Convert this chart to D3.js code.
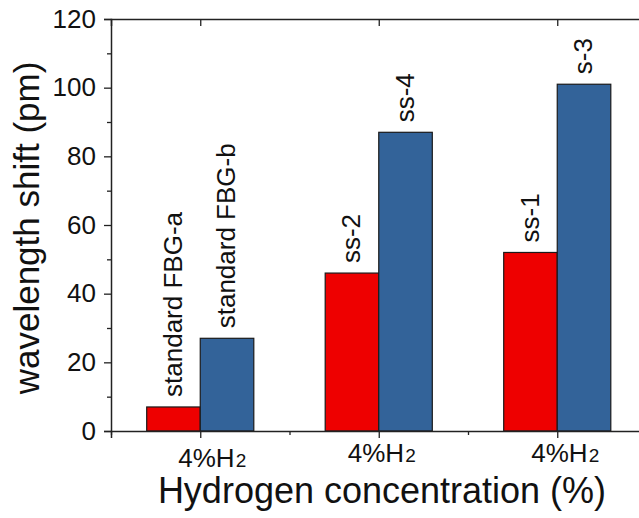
<!DOCTYPE html>
<html><head><meta charset="utf-8">
<script src="https://cdn.jsdelivr.net/npm/d3@7/dist/d3.min.js"></script>
<style>body{margin:0;background:#fff}svg{display:block;font-family:"Liberation Sans",Arial,sans-serif}</style>
</head><body><svg id="c" width="639" height="518"></svg>
<script>
const categories = ["4%H2", "4%H2", "4%H2"];
const redValues = [7, 46, 52];
const blueValues = [27, 87, 101];
const redLabels = ["standard FBG-a", "ss-2", "ss-1"];
const blueLabels = ["standard FBG-b", "ss-4", "s-3"];
const yTicks = [0, 20, 40, 60, 80, 100, 120];

const svg = d3.select("#c");
const L = 111, T = 19, B = 431, R = 646.5;
const x = d3.scaleLinear().domain([0.5, 3.5]).range([L, R]);
const y = d3.scaleLinear().domain([0, 120]).range([B, T]);
const bw = (x(1) - x(0)) * 0.3;
const axisColor = "#222";
const FONT = "Liberation Sans, Arial, sans-serif";

// bars
const g = svg.append("g");
const data = categories.map((c, i) => ({i: i + 1, r: redValues[i], b: blueValues[i], rl: redLabels[i], bl: blueLabels[i]}));
g.selectAll(".rb").data(data).join("rect")
  .attr("x", d => x(d.i) - bw).attr("y", d => y(d.r))
  .attr("width", bw).attr("height", d => y(0) - y(d.r))
  .attr("fill", "#ee0000").attr("stroke", "#1a1a1a").attr("stroke-width", 1.2);
g.selectAll(".bb").data(data).join("rect")
  .attr("x", d => x(d.i)).attr("y", d => y(d.b))
  .attr("width", bw).attr("height", d => y(0) - y(d.b))
  .attr("fill", "#336399").attr("stroke", "#1a1a1a").attr("stroke-width", 1.2);

// bar labels
const lab = (cx, v, t) => svg.append("text")
  .attr("transform", `translate(${cx},${y(v) - 10}) rotate(-90)`)
  .attr("dy", "0.35em").attr("font-size", 26).attr("fill", "#111").text(t);
data.forEach(d => {
  lab(x(d.i) - bw / 2 - 1, d.r, d.rl);
  lab(x(d.i) + bw / 2 - 1, d.b, d.bl);
});

// left axis
const yAxis = d3.axisLeft(y).tickValues(yTicks).tickSize(7).tickPadding(8);
const ya = svg.append("g").attr("transform", `translate(${L},0)`).call(yAxis);
ya.selectAll("text").attr("font-size", 26).attr("fill", "#111").attr("font-family", FONT);
ya.selectAll("line").attr("stroke", axisColor).attr("stroke-width", 1.3);
ya.select(".domain").attr("stroke", axisColor).attr("stroke-width", 1.5);
const yMinor = d3.axisLeft(y).tickValues(d3.range(10, 120, 20)).tickSize(4).tickFormat("");
const ym = svg.append("g").attr("transform", `translate(${L},0)`).call(yMinor);
ym.select(".domain").remove();
ym.selectAll("line").attr("stroke", axisColor).attr("stroke-width", 1.3);

// right axis (inward ticks)
const yR = d3.axisLeft(y).tickValues(yTicks).tickSize(6).tickFormat("");
const yr = svg.append("g").attr("transform", `translate(${R},0)`).call(yR);
yr.selectAll("line").attr("stroke", axisColor).attr("stroke-width", 1.3);
yr.select(".domain").attr("stroke", axisColor).attr("stroke-width", 1.5);

// bottom axis
const xAxis = d3.axisBottom(x).tickValues([1, 2, 3]).tickSize(7).tickFormat("");
const xa = svg.append("g").attr("transform", `translate(0,${B})`).call(xAxis);
xa.selectAll("line").attr("stroke", axisColor).attr("stroke-width", 1.3);
xa.select(".domain").attr("stroke", axisColor).attr("stroke-width", 1.5);
const xMinor = d3.axisBottom(x).tickValues([0.5, 1.5, 2.5, 3.5]).tickSize(4).tickFormat("");
const xm = svg.append("g").attr("transform", `translate(0,${B})`).call(xMinor);
xm.select(".domain").remove();
xm.selectAll("line").attr("stroke", axisColor).attr("stroke-width", 1.3);

// top axis (inward ticks)
const xTop = d3.axisBottom(x).tickValues([1, 2, 3]).tickSize(7).tickFormat("");
const xt = svg.append("g").attr("transform", `translate(0,${T})`).call(xTop);
xt.selectAll("line").attr("stroke", axisColor).attr("stroke-width", 1.3);
xt.select(".domain").attr("stroke", axisColor).attr("stroke-width", 1.5);

// category labels (as placed in the original figure)
const labelDx = [12, 3, 8];
const labelBaseline = [467, 462, 462];
data.forEach((d, k) => {
  const t = svg.append("text").attr("x", x(d.i) + labelDx[k]).attr("y", labelBaseline[k])
    .attr("text-anchor", "middle").attr("font-size", 26).attr("fill", "#111");
  const c = categories[k];
  t.append("tspan").text(c.slice(0, -1));
  t.append("tspan").attr("font-size", 19).attr("dx", 1).text(c.slice(-1));
});

// axis titles
svg.append("text").attr("x", 382).attr("y", 503).attr("text-anchor", "middle")
  .attr("font-size", 36).attr("fill", "#111").text("Hydrogen concentration (%)");
svg.append("text").attr("transform", `translate(27,228) rotate(-90)`)
  .attr("dy", "0.35em").attr("text-anchor", "middle")
  .attr("font-size", 35).attr("fill", "#111").text("wavelength shift (pm)");
</script></body></html>
